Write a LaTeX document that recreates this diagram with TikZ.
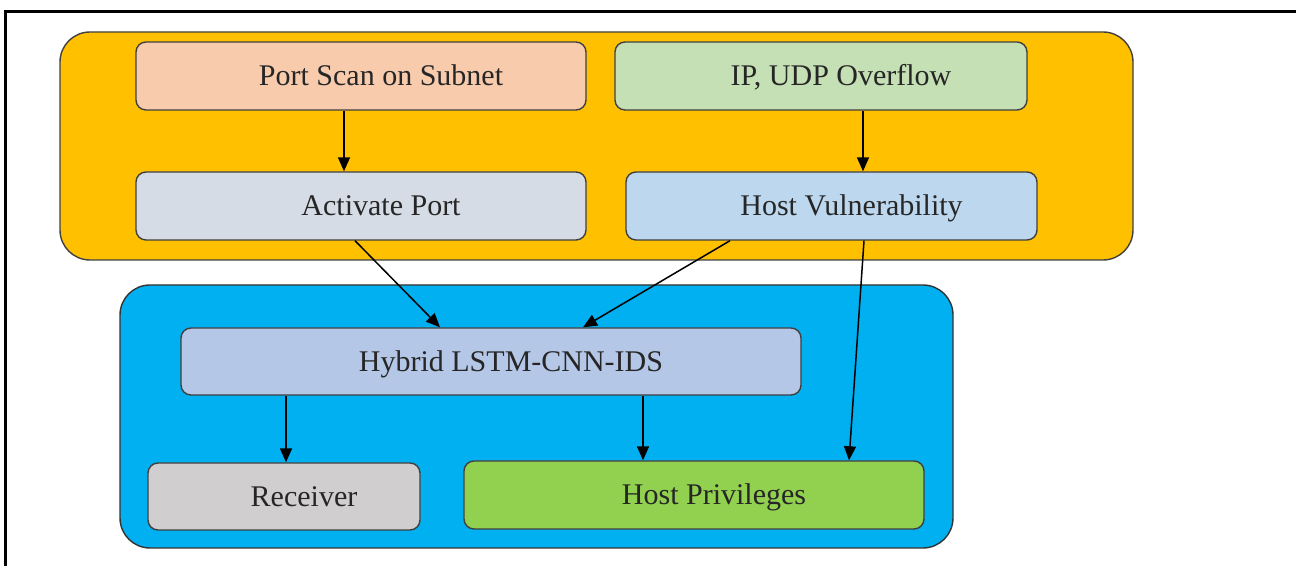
\documentclass[tikz,border=0pt]{standalone}
\usepackage{fontspec}
\setmainfont{Liberation Serif}
\usepackage{xcolor}
\usetikzlibrary{arrows.meta,calc}

\definecolor{outerorange}{HTML}{FFC000}
\definecolor{outerblue}{HTML}{00B0F0}
\definecolor{scanfill}{HTML}{F8CBAD}
\definecolor{udpfill}{HTML}{C5E0B4}
\definecolor{portfill}{HTML}{D6DCE5}
\definecolor{vulnfill}{HTML}{BDD7EE}
\definecolor{hybridfill}{HTML}{B4C7E7}
\definecolor{recvfill}{HTML}{D0CECE}
\definecolor{privfill}{HTML}{92D050}
\definecolor{edgegray}{HTML}{404040}

\tikzset{
  stagebox/.style={draw=edgegray,line width=0.7pt,rounded corners=5pt,
    minimum height=34pt,inner sep=0pt,font=\fontsize{15}{18}\selectfont,
    text height=11.5pt,text depth=1.5pt,
    text=black!85,execute at begin node=\hspace*{20pt}},
  flow/.style={-{Triangle[length=7pt,width=6pt]},line width=0.75pt}
}

\begin{document}
\begin{tikzpicture}[x=0.5pt,y=0.5pt]
  \useasboundingbox (0,0) rectangle (1296,566);
  % frame
  \draw[line width=1.5pt] (5,0)--(5,554)--(1296,554);
  % containers
  \draw[fill=outerorange,draw=edgegray,line width=0.7pt,rounded corners=15pt] (60,306) rectangle (1133,534);
  \draw[fill=outerblue,draw=black!80,line width=0.7pt,rounded corners=15pt] (120,18) rectangle (953,281);

  \node[stagebox,fill=scanfill,minimum width=225pt] (scan) at (361,490) {Port Scan on Subnet};
  \node[stagebox,fill=udpfill,minimum width=206pt] (udp) at (821,490) {IP, UDP Overflow};
  \node[stagebox,fill=portfill,minimum width=225pt] (port) at (361,360) {Activate Port};
  \node[stagebox,fill=vulnfill,minimum width=205.5pt] (vuln) at (831.5,360) {Host Vulnerability};
  \node[stagebox,fill=hybridfill,minimum width=310pt,minimum height=33.5pt] (hybrid) at (491,204.5) {Hybrid LSTM-CNN-IDS};
  \node[stagebox,fill=recvfill,minimum width=136pt,minimum height=33.5pt] (recv) at (284,69.5) {Receiver};
  \node[stagebox,fill=privfill,minimum width=230pt] (priv) at (694,71) {Host Privileges};

  \draw[flow] ($(scan.south)+(-17,0)$) -- ($(port.north)+(-17,0)$);
  \draw[flow] ($(udp.south)+(42,0)$) -- ($(vuln.north)+(31.5,0)$);
  \draw[flow] ($(port.south)+(-6,0)$) -- ($(hybrid.north)+(-51,0)$);
  \draw[flow] ($(vuln.south)+(-101.5,0)$) -- ($(hybrid.north)+(92,0)$);
  \draw[flow] ($(vuln.south)+(32.5,0)$) -- ($(priv.north)+(155,0)$);
  \draw[flow] ($(hybrid.south)+(-205,0)$) -- ($(recv.north)+(2,0)$);
  \draw[flow] ($(hybrid.south)+(152,0)$) -- ($(priv.north)+(-51,0)$);
\end{tikzpicture}
\end{document}
